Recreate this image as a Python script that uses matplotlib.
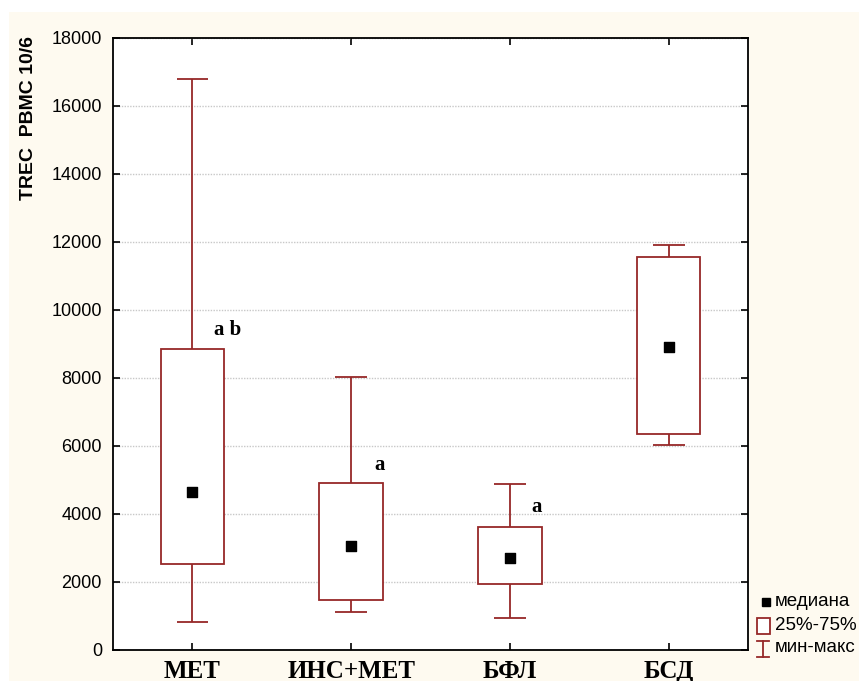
import matplotlib
matplotlib.use("Agg")
import matplotlib.pyplot as plt
from matplotlib.patches import Rectangle
from matplotlib.lines import Line2D

# values
groups = ["МЕТ", "ИНС+МЕТ", "БФЛ", "БСД"]
mins = [820, 1120, 940, 6030]
q1 = [2530, 1470, 1940, 6350]
medians = [4650, 3060, 2700, 8910]
q3 = [8850, 4910, 3620, 11560]
maxs = [16800, 8030, 4880, 11900]

# significance letters: (group index, x offset, y value, text)
letters = [(0, 0.22, 9400, "a b"), (1, 0.18, 5450, "a"), (2, 0.17, 4200, "a")]

box_color = "#962828"
cream = "#fefaf0"

fig = plt.figure(figsize=(8.59, 6.81), dpi=100, facecolor="white")
fig.patches.append(Rectangle((9 / 859, 0), 1, 1 - 12 / 681, transform=fig.transFigure,
                             facecolor=cream, edgecolor="none", zorder=-10))

ax = fig.add_axes([113 / 859, 31 / 681, 635 / 859, 612 / 681])
ax.set_facecolor("white")

pos = list(range(1, len(groups) + 1))
box_w = 0.4
cap_w = 0.2

ax.bar(pos, [b - a for a, b in zip(q1, q3)], bottom=q1, width=box_w,
       facecolor="white", edgecolor=box_color, linewidth=1.3, zorder=3)
ax.vlines(pos, q3, maxs, color=box_color, linewidth=1.3, zorder=3)
ax.vlines(pos, mins, q1, color=box_color, linewidth=1.3, zorder=3)
ax.hlines(maxs, [p - cap_w / 2 for p in pos], [p + cap_w / 2 for p in pos],
          color=box_color, linewidth=1.3, zorder=3)
ax.hlines(mins, [p - cap_w / 2 for p in pos], [p + cap_w / 2 for p in pos],
          color=box_color, linewidth=1.3, zorder=3)
ax.scatter(pos, medians, marker="s", s=55, color="black", zorder=4)

for i, dx, y, txt in letters:
    ax.text(pos[i] + dx, y, txt, ha="center", va="center", fontsize=15,
            fontweight="bold", family="Liberation Serif", zorder=5)

ax.set_xlim(0.5, 4.5)
ax.set_ylim(0, 18000)
ax.set_yticks(range(0, 18001, 2000))
ax.set_xticks(pos)
ax.set_xticklabels(groups, fontsize=18, fontweight="bold", family="Liberation Serif")
for lab in ax.get_yticklabels():
    lab.set_fontsize(13)
    lab.set_family("Liberation Sans")
ax.tick_params(axis="both", direction="in", top=True, right=True, length=5, width=1.2)
ax.tick_params(axis="y", pad=8)
ax.tick_params(axis="x", pad=7)
ax.grid(axis="y", color="#c8c8c8", linestyle=(0, (1, 1)), linewidth=1, zorder=0)
ax.set_axisbelow(True)
for sp in ax.spines.values():
    sp.set_linewidth(1.3)

fig.text(29 / 859, 1 - 118 / 681, "TREC  PBMC 10/6", rotation=90, ha="center", va="center",
         fontsize=14, fontweight="bold", family="Liberation Sans")

# legend drawn by hand to the right of the axes
tf = fig.transFigure
W, H = 859, 681
fig.lines.append(Line2D([766 / W], [1 - 602 / H], marker="s", markersize=6, color="black",
                        linestyle="none", transform=tf))
fig.patches.append(Rectangle((757 / W, 1 - 634 / H), 13 / W, 16 / H, transform=tf,
                             facecolor="white", edgecolor=box_color, linewidth=1.3))
fig.lines.append(Line2D([763 / W, 763 / W], [1 - 641 / H, 1 - 657 / H], color=box_color,
                        linewidth=1.3, transform=tf))
fig.lines.append(Line2D([757 / W, 769 / W], [1 - 641 / H, 1 - 641 / H], color=box_color,
                        linewidth=1.3, transform=tf))
fig.lines.append(Line2D([757 / W, 769 / W], [1 - 657 / H, 1 - 657 / H], color=box_color,
                        linewidth=1.3, transform=tf))
for y, txt in [(602, "медиана"), (625, "25%-75%"), (648, "мин-макс")]:
    fig.text(775 / W, 1 - y / H, txt, ha="left", va="center", fontsize=13.5,
             family="Liberation Sans")

fig.savefig("out.png", dpi=100, facecolor="white")
